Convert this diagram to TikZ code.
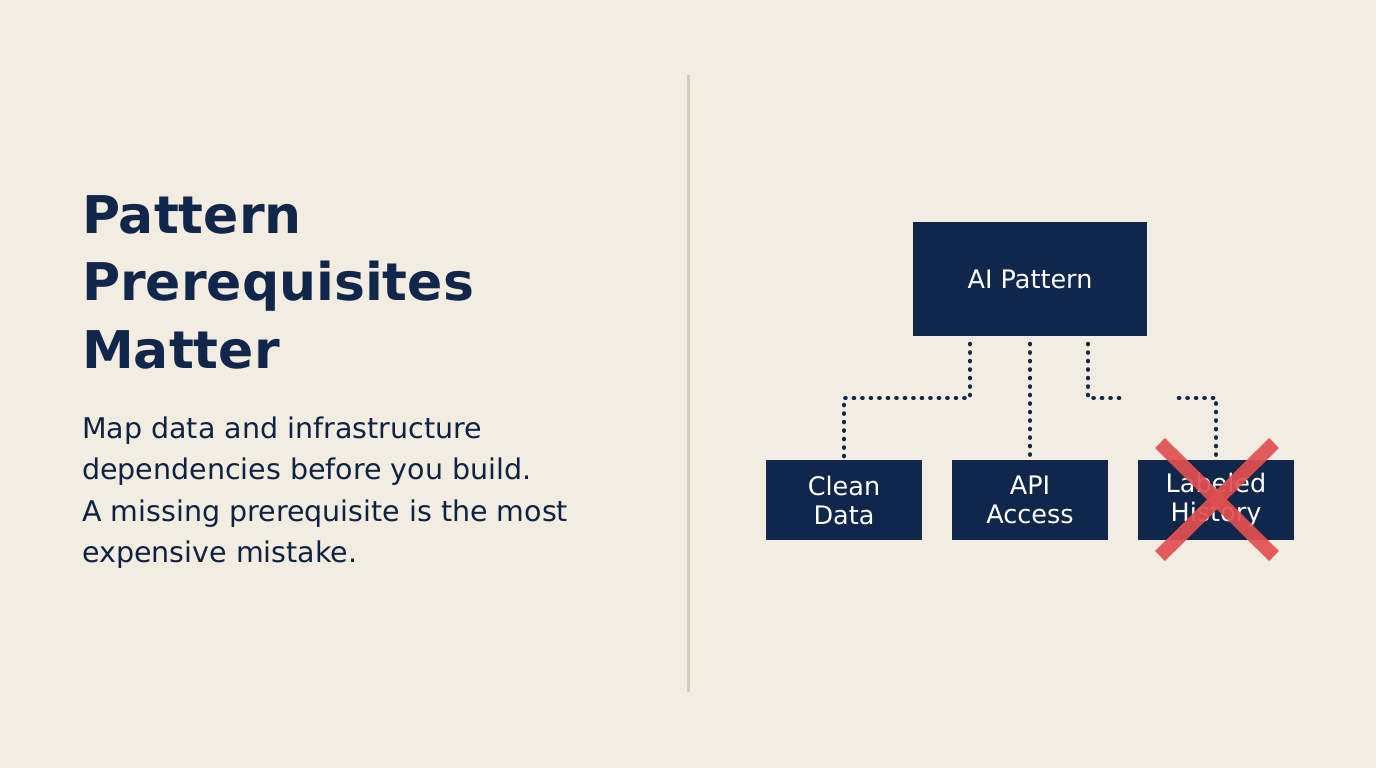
\documentclass[tikz,border=0pt]{standalone}
\usepackage{fontspec}
\setmainfont{DejaVu Sans}
\definecolor{bg}{HTML}{F2ECE1}
\definecolor{navy}{HTML}{10264A}
\definecolor{rule}{HTML}{D5CBBD}
\definecolor{xred}{HTML}{E25050}
\begin{document}
\begin{tikzpicture}[x=1pt,y=-1pt,
  box/.style={draw=none,fill=navy,text=white,font=\fontsize{25.5}{29}\selectfont,align=center,inner sep=0pt},
  dotline/.style={draw=navy,line width=4.6pt,line cap=round,dash pattern=on 0.1pt off 8.4pt},
  title/.style={anchor=base west,text=navy,font=\fontsize{52}{60}\bfseries\selectfont,inner sep=0pt},
  body/.style={anchor=base west,text=navy!90!black,font=\fontsize{28.5}{34}\selectfont,inner sep=0pt}]
\fill[bg] (0,0) rectangle (1376,768);
\useasboundingbox (0,0) rectangle (1376,768);
\draw[rule,line width=3pt] (688,75) -- (688,692);
\node[title] (t1) at (82,233) {Pattern};
\node[title] (t2) at (82,300) {Prerequisites};
\node[title] (t3) at (82,368) {Matter};
\node[body] (b1) at (82,438) {Map data and infrastructure};
\node[body] (b2) at (82,479) {dependencies before you build.};
\node[body] (b3) at (82,521) {A missing prerequisite is the most};
\node[body] (b4) at (82,562) {expensive mistake.};
\node[box,minimum width=234pt,minimum height=114pt] (ai) at (1030,279) {AI Pattern};
\node[box,minimum width=156pt,minimum height=80pt] (cd) at (844,500) {Clean\\Data};
\node[box,minimum width=156pt,minimum height=80pt] (api) at (1030,500) {API\\Access};
\node[box,minimum width=156pt,minimum height=80pt] (lh) at (1216,500) {Labeled\\History};
\coordinate (gapL) at (1127,398);
\coordinate (gapR) at (1179,398);
\draw[dotline] (970,344) -- (970,398) -- (cd.north |- 0,398) -- ([yshift=-6pt]cd.north);
\draw[dotline] (1030,344) -- ([yshift=-6pt]api.north);
\draw[dotline] (1088,344) -- (1088,398) -- (gapL);
\draw[dotline] (gapR) -- (lh.north |- 0,398) -- ([yshift=-6pt]lh.north);
\draw[xred,opacity=0.92,line width=14pt] (1160,443) -- (1274,556);
\draw[xred,opacity=0.92,line width=14pt] (1274,443) -- (1160,556);
\end{tikzpicture}
\end{document}
